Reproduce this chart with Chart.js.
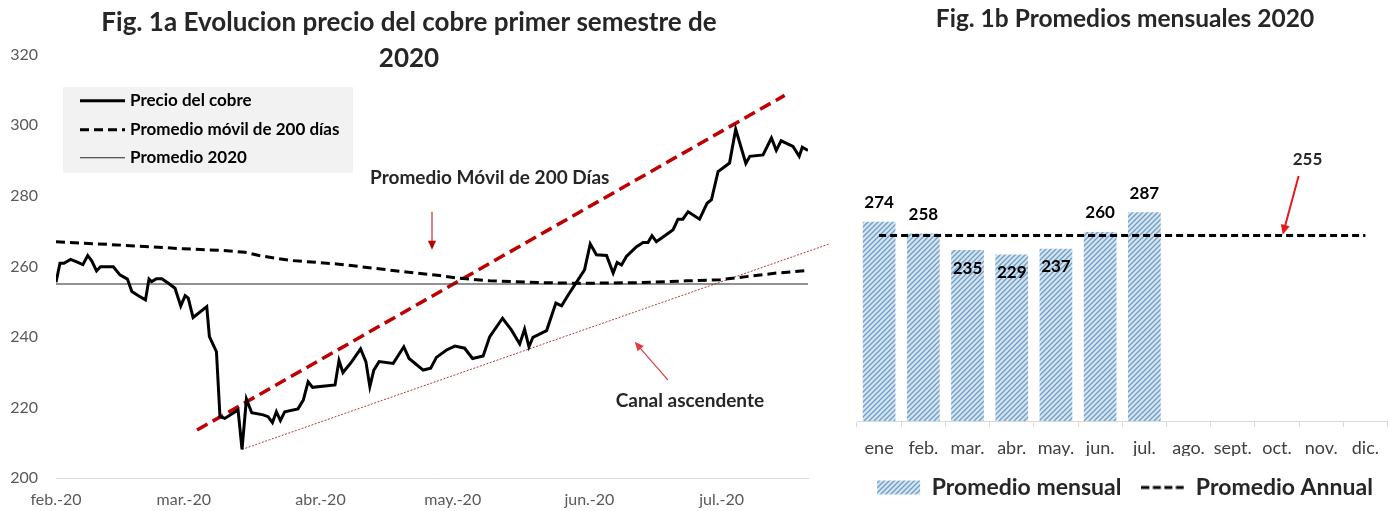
<!DOCTYPE html>
<html>
<head>
<meta charset="utf-8">
<script src="https://cdn.jsdelivr.net/npm/chart.js@4.4.0/dist/chart.umd.min.js"></script>
<style>
    body { margin: 0; background: #fff; }
    #wrap { position: relative; width: 1389px; height: 511px; overflow: hidden; }
    #cobreChart { position: absolute; left: 0; top: 0; }
    #mensualChart { position: absolute; left: 840px; top: 0; }
</style>
</head>
<body>
<div id="wrap">
    <canvas id="cobreChart" width="840" height="511"></canvas>
    <canvas id="mensualChart" width="549" height="511"></canvas>
</div>
<script>
// ---- Fig. 1a data (x = days since 1 feb 2020) ----
var monthStarts = [0, 29, 60, 90, 121, 151];
var monthLabels = ["feb.-20", "mar.-20", "abr.-20", "may.-20", "jun.-20", "jul.-20"];

var priceDays = [0, 0.9, 1.8, 3.3, 4.7, 6.1, 7.2, 8.1, 9.2, 10.1, 13, 14.5, 16.2, 17.2, 18.7, 20.3, 21.1, 21.7, 22.8, 24,
    25.5, 27, 28.3, 29.3, 30, 31.1, 34.2, 34.8, 35.7, 36.4, 37.2, 38.3, 41.3, 42.2, 43.2, 44.4, 47, 48.1, 49.1, 50,
    50.9, 51.9, 54.9, 56.1, 57.2, 58.2, 63.3, 64.2, 65.1, 67.1, 69.1, 70.3, 71.2, 72.1, 73.3, 76.5, 78.9, 80.1, 83.3, 85,
    86.3, 88.6, 90.5, 92.7, 94.5, 96.9, 98.4, 101.3, 103.3, 105.2, 106.3, 107.3, 108.2, 111.3, 113.4, 114.7, 116.2, 119.9, 121.2, 122.6,
    124.9, 126.4, 127.3, 128.3, 129.4, 131.7, 133.2, 134.3, 135.2, 136.2, 138.1, 140, 141.1, 142.2, 143.4, 146, 147.7, 148.7, 150.2, 152.8,
    154.2, 156.5, 157.4, 160.4, 162.3, 163.4, 164.5, 167.2, 168.6, 169.3, 170.6];
var priceValues = [255.5, 260.9, 260.9, 262.0, 261.3, 260.5, 263.1, 261.6, 258.7, 259.9, 259.9, 257.6, 256.4, 252.9, 251.7, 250.5, 256.4, 255.7, 256.5, 256.5,
    255.2, 253.8, 248.8, 251.7, 251.0, 245.5, 248.6, 240.1, 237.7, 235.8, 217.4, 216.9, 219.3, 208.1, 222.4, 218.5, 217.9, 217.4, 215.7, 218.8,
    216.3, 218.8, 219.6, 222.1, 227.3, 225.7, 226.4, 233.3, 229.9, 233.0, 236.6, 233.0, 225.9, 230.6, 233.0, 232.5, 237.2, 233.9, 230.6, 231.1,
    234.2, 236.3, 237.4, 236.8, 233.9, 234.6, 240.1, 245.3, 242.0, 238.0, 242.2, 237.2, 239.9, 241.8, 249.6, 248.8, 251.9, 259.0, 266.4, 263.3,
    263.1, 258.1, 261.1, 260.4, 262.8, 265.6, 266.8, 266.8, 268.7, 267.0, 268.7, 270.4, 273.4, 273.4, 275.5, 273.4, 277.9, 278.9, 286.9, 289.3,
    298.9, 289.2, 291.2, 291.6, 296.4, 292.9, 295.6, 294.0, 291.2, 293.8, 292.9];

var maDays = [0, 13.8, 28.9, 37.9, 42.9, 46.3, 53.1, 63.7, 72, 79.5, 87.1, 90.9, 98.4, 109.8, 118.8, 132.4, 143, 150.6, 156.6, 163.4, 170.2];
var maValues = [267.0, 266.1, 265.0, 264.5, 264.0, 263.0, 261.7, 260.7, 259.5, 258.4, 257.4, 256.7, 255.9, 255.4, 255.2, 255.4, 255.9, 256.2, 257.1, 258.1, 258.8];

var promedio2020 = 255;
var promedioDays = [0, 170.6];

var canalSupDays = [32, 165.3];
var canalSupValues = [213.6, 308.5];
var canalInfDays = [42.2, 175.5];
var canalInfValues = [208.1, 266.4];

// ---- Fig. 1b data ----
var meses = ["ene", "feb.", "mar.", "abr.", "may.", "jun.", "jul.", "ago.", "sept.", "oct.", "nov.", "dic."];
var promedioMensual = [274, 258, 235, 229, 237, 260, 287, null, null, null, null, null];
var promedioAnual = 255;

Chart.defaults.font.family = "Lato, 'Open Sans', sans-serif";

function toPoints(xs, ys) {
    var pts = [];
    for (var i = 0; i < xs.length; i++) {
        pts.push({ x: xs[i], y: ys[i] });
    }
    return pts;
}

function hatchPattern() {
    var c = document.createElement("canvas");
    c.width = 5;
    c.height = 5;
    var g = c.getContext("2d");
    g.fillStyle = "#d5e4f1";
    g.fillRect(0, 0, 5, 5);
    g.strokeStyle = "#6f9dc5";
    g.lineWidth = 1.3;
    g.beginPath();
    g.moveTo(-1, 6); g.lineTo(6, -1);
    g.moveTo(-1, 1); g.lineTo(1, -1);
    g.moveTo(4, 6); g.lineTo(6, 4);
    g.stroke();
    return g.createPattern(c, "repeat");
}

// small dashed-line swatch used as the legend symbol of the annual average
function dashSwatch() {
    var c = document.createElement("canvas");
    c.width = 43;
    c.height = 6;
    var g = c.getContext("2d");
    g.strokeStyle = "#000";
    g.lineWidth = 3;
    g.setLineDash([8, 3.5]);
    g.beginPath();
    g.moveTo(0, 3);
    g.lineTo(43, 3);
    g.stroke();
    return c;
}

function drawArrow(ctx, x1, y1, x2, y2, color, width, head) {
    var ang = Math.atan2(y2 - y1, x2 - x1);
    var cos = Math.cos(ang), sin = Math.sin(ang);
    ctx.setLineDash([]);
    ctx.strokeStyle = color;
    ctx.fillStyle = color;
    ctx.lineWidth = width;
    ctx.beginPath();
    ctx.moveTo(x1, y1);
    ctx.lineTo(x2 - cos * head * 0.8, y2 - sin * head * 0.8);
    ctx.stroke();
    ctx.beginPath();
    ctx.moveTo(x2, y2);
    ctx.lineTo(x2 - head * cos + head * 0.45 * sin, y2 - head * sin - head * 0.45 * cos);
    ctx.lineTo(x2 - head * cos - head * 0.45 * sin, y2 - head * sin + head * 0.45 * cos);
    ctx.closePath();
    ctx.fill();
}

// text and arrows placed in data units
var notesPlugin = {
    id: "notes",
    afterDatasetsDraw: function (chart, args, opts) {
        var ctx = chart.ctx, xs = chart.scales.x, ys = chart.scales.y;
        ctx.save();
        (opts.arrows || []).forEach(function (a) {
            drawArrow(ctx, xs.getPixelForValue(a.from[0]), ys.getPixelForValue(a.from[1]),
                xs.getPixelForValue(a.to[0]), ys.getPixelForValue(a.to[1]), a.color, a.width, a.head);
        });
        ctx.textAlign = "center";
        ctx.textBaseline = "middle";
        (opts.texts || []).forEach(function (t) {
            ctx.font = "bold " + t.size + "px Lato";
            ctx.fillStyle = "#262626";
            ctx.fillText(t.text, xs.getPixelForValue(t.x), ys.getPixelForValue(t.y));
        });
        ctx.restore();
    }
};

// boxed legend inside the plot of Fig. 1a
var boxLegendPlugin = {
    id: "boxLegend",
    afterDraw: function (chart) {
        var ctx = chart.ctx, area = chart.chartArea;
        var left = area.left + 7, top = area.top + 32;
        ctx.save();
        ctx.fillStyle = "#f2f2f2";
        ctx.fillRect(left, top, 290, 86);
        var rows = [14, 43, 71];
        ctx.font = "bold 17px Lato";
        ctx.textBaseline = "middle";
        for (var i = 0; i < rows.length; i++) {
            var ds = chart.data.datasets[i];
            var y = top + rows[i];
            ctx.strokeStyle = ds.borderColor;
            ctx.lineWidth = ds.borderWidth;
            ctx.setLineDash(ds.borderDash || []);
            ctx.beginPath();
            ctx.moveTo(left + 17, y);
            ctx.lineTo(left + 62, y);
            ctx.stroke();
            ctx.fillStyle = "#000";
            ctx.fillText(ds.label, left + 67, y);
        }
        ctx.restore();
    }
};

// value labels on the bars of Fig. 1b
var barLabelsPlugin = {
    id: "barLabels",
    afterDatasetsDraw: function (chart) {
        var ctx = chart.ctx;
        var meta = chart.getDatasetMeta(0);
        var values = chart.data.datasets[0].data;
        ctx.save();
        ctx.font = "bold 17px Lato";
        ctx.fillStyle = "#000";
        ctx.textAlign = "center";
        ctx.textBaseline = "middle";
        meta.data.forEach(function (bar, i) {
            if (values[i] == null) return;
            var y = values[i] < promedioAnual ? bar.y + 18 : bar.y - 19;
            ctx.fillText(values[i], bar.x, y);
        });
        ctx.restore();
    }
};

var cobreChart = new Chart(document.getElementById("cobreChart"), {
    type: "line",
    data: {
        datasets: [
            { label: "Precio del cobre", data: toPoints(priceDays, priceValues), borderColor: "#000", borderWidth: 3, pointRadius: 0, tension: 0 },
            { label: "Promedio móvil de 200 días", data: toPoints(maDays, maValues), borderColor: "#000", borderWidth: 3, borderDash: [9, 5], pointRadius: 0 },
            { label: "Promedio 2020", data: toPoints(promedioDays, [promedio2020, promedio2020]), borderColor: "#262626", borderWidth: 1.1, pointRadius: 0 },
            { label: "Canal superior", data: toPoints(canalSupDays, canalSupValues), borderColor: "#c00000", borderWidth: 3.5, borderDash: [12, 6], pointRadius: 0 },
            { label: "Canal inferior", data: toPoints(canalInfDays, canalInfValues), borderColor: "#b03a3a", borderWidth: 1, borderDash: [2, 1.5], pointRadius: 0, clip: false }
        ]
    },
    options: {
        responsive: false,
        animation: false,
        layout: { padding: { left: 10, right: 32, top: 0, bottom: 0 } },
        plugins: {
            legend: { display: false },
            tooltip: { enabled: false },
            title: {
                display: true,
                text: ["Fig. 1a Evolucion precio del cobre primer semestre de", "2020"],
                color: "#262626",
                font: { size: 26, weight: "bold", lineHeight: 1.4 },
                padding: { top: 4, bottom: -22 }
            },
            notes: {
                texts: [
                    { text: "Promedio Móvil de 200 Días", x: 98.4, y: 285.1, size: 19 },
                    { text: "Canal ascendente", x: 143.8, y: 221.8, size: 19 }
                ],
                arrows: [
                    { from: [85.3, 275.5], to: [85.3, 264.7], color: "#c00000", width: 1, head: 9 },
                    { from: [138.8, 227.8], to: [131.3, 238.6], color: "#e03c3c", width: 1.2, head: 9 }
                ]
            }
        },
        scales: {
            x: {
                type: "linear",
                min: 0,
                max: 170.6,
                grid: { display: false, drawTicks: false },
                border: { display: true, color: "#d9d9d9", width: 1 },
                afterBuildTicks: function (scale) {
                    scale.ticks = monthStarts.map(function (v) { return { value: v }; });
                },
                afterFit: function (scale) { scale.height = 33; },
                ticks: {
                    autoSkip: false,
                    maxRotation: 0,
                    padding: 12,
                    color: "#595959",
                    font: { size: 16 },
                    callback: function (value) { return monthLabels[monthStarts.indexOf(value)]; }
                }
            },
            y: {
                min: 200,
                max: 320,
                grid: { display: false, drawTicks: false },
                border: { display: false },
                afterFit: function (scale) { scale.width = 46; },
                ticks: { stepSize: 20, padding: 18, color: "#595959", font: { size: 16 } }
            }
        }
    },
    plugins: [notesPlugin, boxLegendPlugin]
});

var mensualChart = new Chart(document.getElementById("mensualChart"), {
    type: "bar",
    data: {
        labels: meses,
        datasets: [
            {
                type: "bar", label: "Promedio mensual", data: promedioMensual, backgroundColor: hatchPattern(),
                borderWidth: 0, barPercentage: 0.74, categoryPercentage: 1, pointStyle: "rect", order: 1
            },
            {
                type: "line", label: "Promedio Annual", data: meses.map(function () { return promedioAnual; }),
                borderColor: "#000", borderWidth: 3, borderDash: [7, 4], pointRadius: 0, pointStyle: dashSwatch(), order: 0
            }
        ]
    },
    options: {
        responsive: false,
        animation: false,
        layout: { padding: { left: 17, right: -4, top: 0, bottom: 2 } },
        plugins: {
            tooltip: { enabled: false },
            title: {
                display: true,
                text: "Fig. 1b Promedios mensuales 2020",
                color: "#262626",
                font: { size: 24.5, weight: "bold", lineHeight: 1.2 },
                padding: { top: 4, bottom: 24 }
            },
            legend: {
                position: "bottom",
                labels: {
                    usePointStyle: true,
                    pointStyleWidth: 43,
                    boxHeight: 14,
                    padding: 20,
                    color: "#262626",
                    font: { size: 23, weight: "bold" },
                    sort: function (a, b) { return a.datasetIndex - b.datasetIndex; }
                }
            },
            notes: {
                texts: [{ text: "255", x: 9.69, y: 359, size: 17 }],
                arrows: [{ from: [9.49, 337], to: [9.13, 256], color: "#e8191b", width: 2, head: 10 }]
            }
        },
        scales: {
            x: {
                grid: { offset: true, drawOnChartArea: false, drawTicks: true, tickLength: 6, color: "#d9d9d9" },
                border: { color: "#d9d9d9" },
                afterFit: function (scale) { scale.height = 35; },
                ticks: { padding: 10, color: "#404040", font: { size: 18 } }
            },
            y: { display: false, min: 0, max: 500 }
        }
    },
    plugins: [barLabelsPlugin, notesPlugin]
});
</script>
</body>
</html>
